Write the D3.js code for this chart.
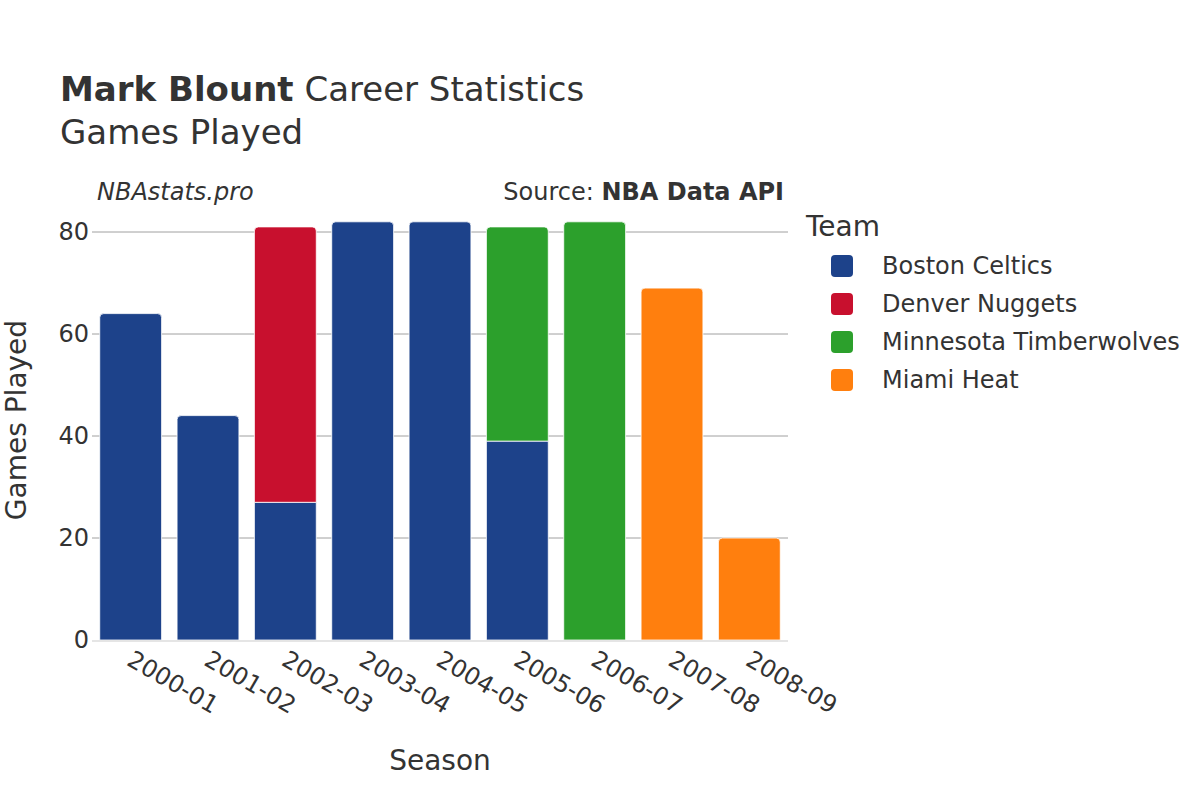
<!DOCTYPE html>
<html>
<head>
<meta charset="utf-8">
<script src="https://cdn.jsdelivr.net/npm/d3@7"></script>
<style>
  body { margin: 0; background: #fff; }
  text { font-family: "DejaVu Sans", sans-serif; fill: #333; }
</style>
</head>
<body>
<div id="chart"></div>
<script>
// seasons on the x axis
const seasons = ["2000-01", "2001-02", "2002-03", "2003-04", "2004-05", "2005-06", "2006-07", "2007-08", "2008-09"]

// teams, in stacking / legend order
const teams = ["Boston Celtics", "Denver Nuggets", "Minnesota Timberwolves", "Miami Heat"]
const teamColors = ["#1d428a", "#c8102e", "#2ca02c", "#ff7f0e"]

// games played per season for each team
const celtics = [64, 44, 27, 82, 82, 39, 0, 0, 0]
const nuggets = [0, 0, 54, 0, 0, 0, 0, 0, 0]
const wolves = [0, 0, 0, 0, 0, 42, 82, 0, 0]
const heat = [0, 0, 0, 0, 0, 0, 0, 69, 20]

const yTicks = [0, 20, 40, 60, 80]

const width = 1200
const height = 800
const margin = { left: 92, right: 412, top: 200, bottom: 160 }
const plotW = width - margin.left - margin.right

const svg = d3.select('#chart').append('svg').attr('width', width).attr('height', height)

const xScale = d3.scaleBand().domain(seasons).range([margin.left, margin.left + plotW]).paddingInner(0.2).paddingOuter(0.1)
const yScale = d3.scaleLinear().domain([0, 80]).range([640, 232])

// grid lines
svg.append('g').selectAll('line').data(yTicks.filter(d => d > 0)).enter().append('line')
  .attr('x1', margin.left).attr('x2', margin.left + plotW)
  .attr('y1', d => yScale(d)).attr('y2', d => yScale(d))
  .attr('stroke', '#a0a0a0').attr('stroke-width', 1)

// stack the series
const rows = seasons.map((s, i) => ({ season: s, values: [celtics[i], nuggets[i], wolves[i], heat[i]] }))
const segments = []
rows.forEach(r => {
  let base = 0
  const last = r.values.reduce((acc, v, j) => v > 0 ? j : acc, -1)
  r.values.forEach((v, j) => {
    if (v > 0) {
      segments.push({ season: r.season, y0: base, y1: base + v, team: j, top: j === last })
      base += v
    }
  })
})

function barPath(d) {
  const x0 = xScale(d.season)
  const x1 = x0 + xScale.bandwidth()
  const yb = yScale(d.y0)
  const yt = yScale(d.y1)
  const r = d.top ? 4 : 0
  return `M${x0},${yb} L${x0},${yt + r} Q${x0},${yt} ${x0 + r},${yt} L${x1 - r},${yt} Q${x1},${yt} ${x1},${yt + r} L${x1},${yb} Z`
}

svg.append('g').selectAll('path').data(segments).enter().append('path')
  .attr('d', barPath)
  .attr('fill', d => teamColors[d.team])
  .attr('stroke', '#fff').attr('stroke-width', 0.8)

// zero line
svg.append('line')
  .attr('x1', margin.left).attr('x2', margin.left + plotW)
  .attr('y1', yScale(0) + 1).attr('y2', yScale(0) + 1)
  .attr('stroke', '#e5e5e5').attr('stroke-width', 2)

// y axis labels
svg.append('g').selectAll('text').data(yTicks).enter().append('text')
  .attr('x', margin.left - 3).attr('y', d => yScale(d)).attr('dy', '0.35em')
  .attr('text-anchor', 'end').attr('font-size', 24).text(d => d)

// x axis labels, rotated
svg.append('g').selectAll('text').data(seasons).enter().append('text')
  .attr('transform', d => `translate(${xScale(d) + xScale.bandwidth() / 2 - 1},${657}) rotate(30)`)
  .attr('font-size', 24).attr('dy', '0.35em').text(d => d)

// axis titles
svg.append('text').attr('x', 440).attr('y', 770).attr('text-anchor', 'middle').attr('font-size', 28).text('Season')
svg.append('text').attr('transform', 'translate(26,420) rotate(-90)').attr('text-anchor', 'middle').attr('font-size', 28).text('Games Played')

// title
const title = svg.append('text').attr('x', 60).attr('y', 101).attr('font-size', 34)
title.append('tspan').attr('font-weight', 'bold').text('Mark Blount')
title.append('tspan').text(' Career Statistics')
svg.append('text').attr('x', 60).attr('y', 144).attr('font-size', 34).text('Games Played')

// watermark and source
svg.append('text').attr('x', 97).attr('y', 200).attr('font-size', 24).attr('font-style', 'italic').text('NBAstats.pro')
const src = svg.append('text').attr('x', 784).attr('y', 200).attr('font-size', 24).attr('text-anchor', 'end')
src.append('tspan').text('Source: ')
src.append('tspan').attr('font-weight', 'bold').text('NBA Data API')

// legend
svg.append('text').attr('x', 806).attr('y', 236).attr('font-size', 28).text('Team')
const leg = svg.append('g').selectAll('g').data(teams).enter().append('g')
  .attr('transform', (d, i) => `translate(0,${266 + i * 38})`)
leg.append('rect').attr('x', 831).attr('y', -11).attr('width', 22).attr('height', 22).attr('rx', 4)
  .attr('fill', (d, i) => teamColors[i])
leg.append('text').attr('x', 882).attr('dy', '0.35em').attr('font-size', 24).text(d => d)
</script>
</body>
</html>
